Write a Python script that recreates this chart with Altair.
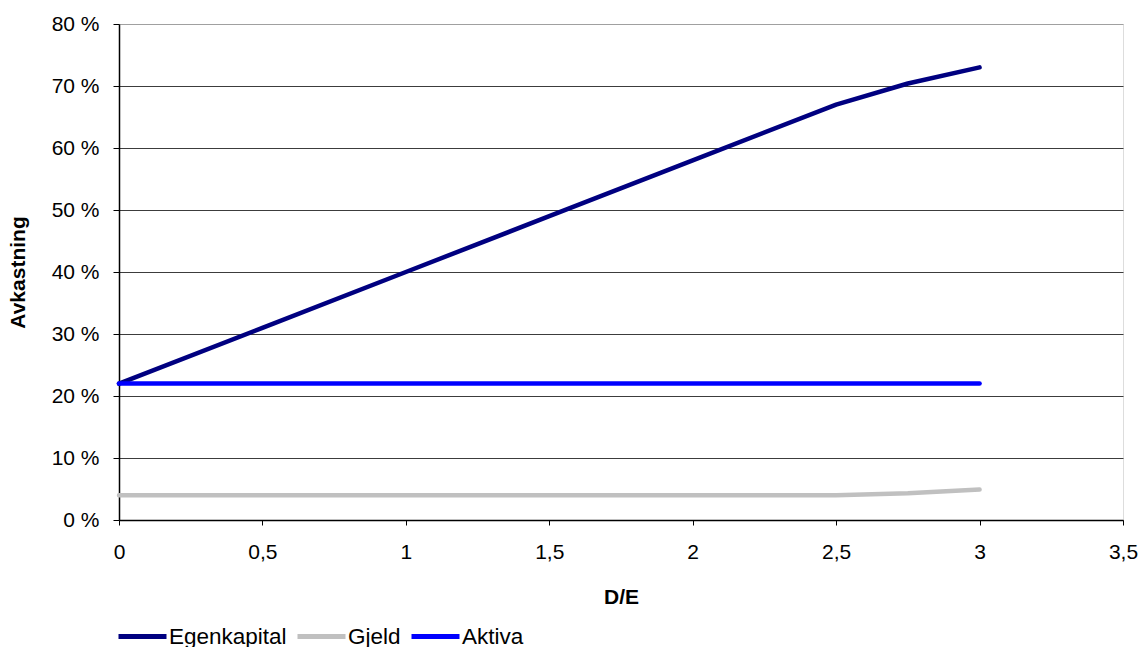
import altair as alt
import pandas as pd

# D/E levels and the resulting returns (in percent)
de = [0, 0.5, 1, 1.5, 2, 2.5, 2.75, 3]
egenkapital = [22, 31, 40, 49, 58, 67, 70.4, 73.0]
gjeld = [4, 4, 4, 4, 4, 4, 4.3, 4.9]
aktiva = [22, 22, 22, 22, 22, 22, 22, 22]

series_names = ["Egenkapital", "Gjeld", "Aktiva"]
series_colors = ["#000080", "#C0C0C0", "#0000FF"]
y_ticks = [0, 10, 20, 30, 40, 50, 60, 70, 80]
x_ticks = [0, 0.5, 1, 1.5, 2, 2.5, 3, 3.5]

rows = []
for name, values in zip(series_names, [egenkapital, gjeld, aktiva]):
    for i, (x, v) in enumerate(zip(de, values)):
        rows.append({"serie": name, "de": x, "avk": v, "idx": i})
df = pd.DataFrame(rows)

FONT = "Liberation Sans"
FS = 21
LEG_FS = 22.5

chart = (
    alt.Chart(df)
    .mark_line(strokeWidth=4.5, strokeCap="round", strokeJoin="round")
    .encode(
        x=alt.X(
            "de:Q",
            scale=alt.Scale(domain=[0, 3.5], nice=False, zero=False),
            axis=alt.Axis(
                title="D/E",
                values=x_ticks,
                labelExpr="replace(toString(datum.value), '.', ',')",
                labelFlush=False,
                labelOverlap=False,
                grid=False,
                domainColor="#000000",
                domainWidth=1.5,
                tickColor="#000000",
                tickSize=5,
                labelPadding=16,
                labelFont=FONT,
                labelFontSize=FS,
                labelColor="#000000",
                titleFont=FONT,
                titleFontSize=FS,
                titleFontWeight="bold",
                titleColor="#000000",
                titleY=83,
                titleBaseline="alphabetic",
            ),
        ),
        y=alt.Y(
            "avk:Q",
            scale=alt.Scale(domain=[0, 80], nice=False),
            axis=alt.Axis(
                title="Avkastning",
                values=y_ticks,
                labelExpr="datum.value + ' %'",
                labelFlush=False,
                labelOverlap=False,
                grid=True,
                gridColor=alt.condition(
                    "datum.value >= 80", alt.value("#a0a0a0"), alt.value("#3c3c3c")
                ),
                gridWidth=1,
                domainColor="#000000",
                domainWidth=1.5,
                tickColor="#000000",
                tickSize=6,
                labelPadding=14,
                labelFont=FONT,
                labelFontSize=FS,
                labelColor="#000000",
                titleFont=FONT,
                titleFontSize=FS,
                titleFontWeight="bold",
                titleColor="#000000",
                titleAngle=270,
                titleX=-95,
                titleBaseline="alphabetic",
            ),
        ),
        color=alt.Color(
            "serie:N",
            scale=alt.Scale(domain=series_names, range=series_colors),
            legend=alt.Legend(
                title=None,
                orient="none",
                direction="horizontal",
                legendX=-3,
                legendY=586,
                symbolType="stroke",
                symbolSize=2304,
                symbolStrokeWidth=5,
                labelFont=FONT,
                labelFontSize=LEG_FS,
                labelColor="#000000",
                labelOffset=0,
                columnPadding=0,
            ),
        ),
        order="idx:Q",
    )
    .properties(
        width=1004,
        height=496,
        autosize=alt.AutoSizeParams(type="none"),
        padding={"left": 119, "top": 24, "right": 18, "bottom": 127},
    )
    .configure_view(stroke="#a0a0a0", strokeWidth=2)
    .configure(background="#ffffff")
)

chart.save("out.html", embed_options={"renderer": "svg", "actions": False})
